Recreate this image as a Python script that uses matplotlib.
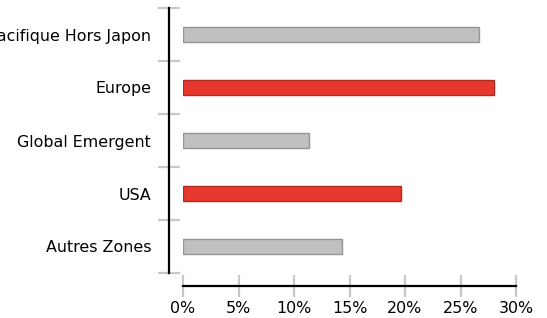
import matplotlib.pyplot as plt

regions = ["Pacifique Hors Japon", "Europe", "Global Emergent", "USA", "Autres Zones"]
values = [26.7, 28.0, 11.35, 19.6, 14.3]
highlight = [False, True, False, True, False]
x_ticks = [0, 5, 10, 15, 20, 25, 30]

GRIS, GRIS_BORD = "#c0c0c0", "#959595"
ROUGE, ROUGE_BORD = "#e8372c", "#b02a24"
TICK = "#c8c8c8"

fig = plt.figure(figsize=(5.47, 3.18), dpi=100)
ax = fig.add_axes([183 / 547, 1 - 273 / 318, 333 / 547, 265 / 318])

pos = list(range(len(regions)))
fc = [ROUGE if h else GRIS for h in highlight]
ec = [ROUGE_BORD if h else GRIS_BORD for h in highlight]
ax.barh(pos, values, height=0.3, color=fc, edgecolor=ec, linewidth=1.0)

ax.set_xlim(0, 30)
ax.set_ylim(4.5, -0.5)

for s in ("top", "right"):
    ax.spines[s].set_visible(False)
ax.spines["left"].set_position(("outward", 10))
ax.spines["bottom"].set_position(("outward", 9.4))
ax.spines["left"].set_linewidth(1.6)
ax.spines["bottom"].set_linewidth(1.6)

# graduations : aux limites des catégories, libellés au centre
ax.set_yticks([p - 0.5 for p in pos] + [len(pos) - 0.5])
ax.set_yticklabels([])
ax.set_yticks(pos, minor=True)
ax.set_yticklabels(regions, minor=True, fontsize=11.4)
ax.tick_params(axis="y", which="major", direction="inout", length=16, width=1.6, color=TICK)
ax.tick_params(axis="y", which="minor", length=0, pad=13)

ax.set_xticks(x_ticks)
ax.set_xticklabels([f"{t}%" for t in x_ticks], fontsize=11.4)
ax.tick_params(axis="x", direction="inout", length=16, width=1.6, color=TICK, pad=3)

fig.savefig("out.png", dpi=100)
